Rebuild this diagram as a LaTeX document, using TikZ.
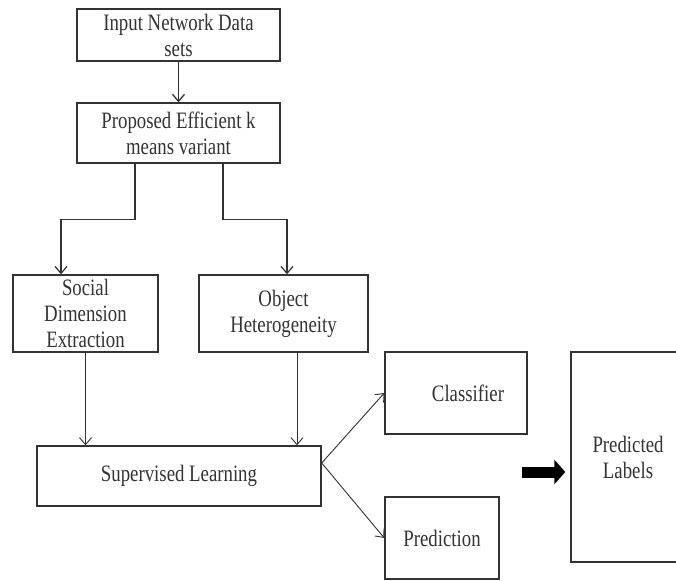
\documentclass[tikz,border=0pt]{standalone}
\usepackage{fontspec}
\setmainfont{Liberation Serif}[FakeStretch=0.8]
\usepackage{tikz}
\usetikzlibrary{positioning, arrows.meta}

\definecolor{inkgray}{HTML}{333333}

\tikzset{
  stagebox/.style={draw=inkgray, line width=1.4pt, text=inkgray, align=center,
    inner sep=0pt, font=\fontsize{23.5}{26}\selectfont},
  flow/.style={draw=inkgray, line width=0.9pt, -{Straight Barb[length=7pt,width=12pt]}},
  fatarrow/.style={draw=black, line width=11pt, -{Triangle[length=11pt,width=24pt]}}
}

\begin{document}
\begin{tikzpicture}[x=1pt, y=-1pt]
\useasboundingbox (0,0) rectangle (676,580);
\clip (0,0) rectangle (676,580);
\node (input) [stagebox, minimum width=203pt, minimum height=52pt] at (178.5,35) {Input Network Data\\sets};
\node (kmeans) [stagebox, minimum width=203pt, minimum height=60pt] at (178.5,133) {Proposed Efficient k\\means variant};
\node (social) [stagebox, minimum width=145pt, minimum height=77pt] at (85.5,313.5) {Social\\Dimension\\Extraction};
\node (object) [stagebox, minimum width=169pt, minimum height=77pt] at (283.5,313.5) {Object\\Heterogeneity};
\node (supervised) [stagebox, minimum width=284pt, minimum height=60pt] at (179,476) {Supervised Learning};
\node (classifier) [stagebox, minimum width=142pt, minimum height=82pt] at (456,393) {\hspace*{24pt}Classifier};
\node (prediction) [stagebox, minimum width=114pt, minimum height=82pt] at (442,538) {Prediction};
\node (labels) [stagebox, minimum width=114pt, minimum height=210pt] at (628,457) {Predicted\\Labels};
\coordinate (fatstart) at (522,472);

\draw[flow, line width=1.3pt] (input) -- (kmeans);
\draw[flow, line width=1.2pt] ([xshift=-43.5pt]kmeans.south) -- ++(0,56) -| ([xshift=-24.5pt]social.north);
\draw[flow, line width=1.2pt] ([xshift=44.5pt]kmeans.south) -- ++(0,56) -| ([xshift=3.5pt]object.north);
\draw[flow] (social.south) -- (social.south |- supervised.north);
\draw[flow] ([xshift=13.5pt]object.south) -- ([xshift=13.5pt]object.south |- supervised.north);
\draw[flow] ([yshift=13pt]supervised.east) -- (classifier.west);
\draw[flow] ([yshift=13pt]supervised.east) -- (prediction.west);
\draw[fatarrow, shorten >=5pt] (fatstart) -- (fatstart -| labels.west);
\end{tikzpicture}
\end{document}
